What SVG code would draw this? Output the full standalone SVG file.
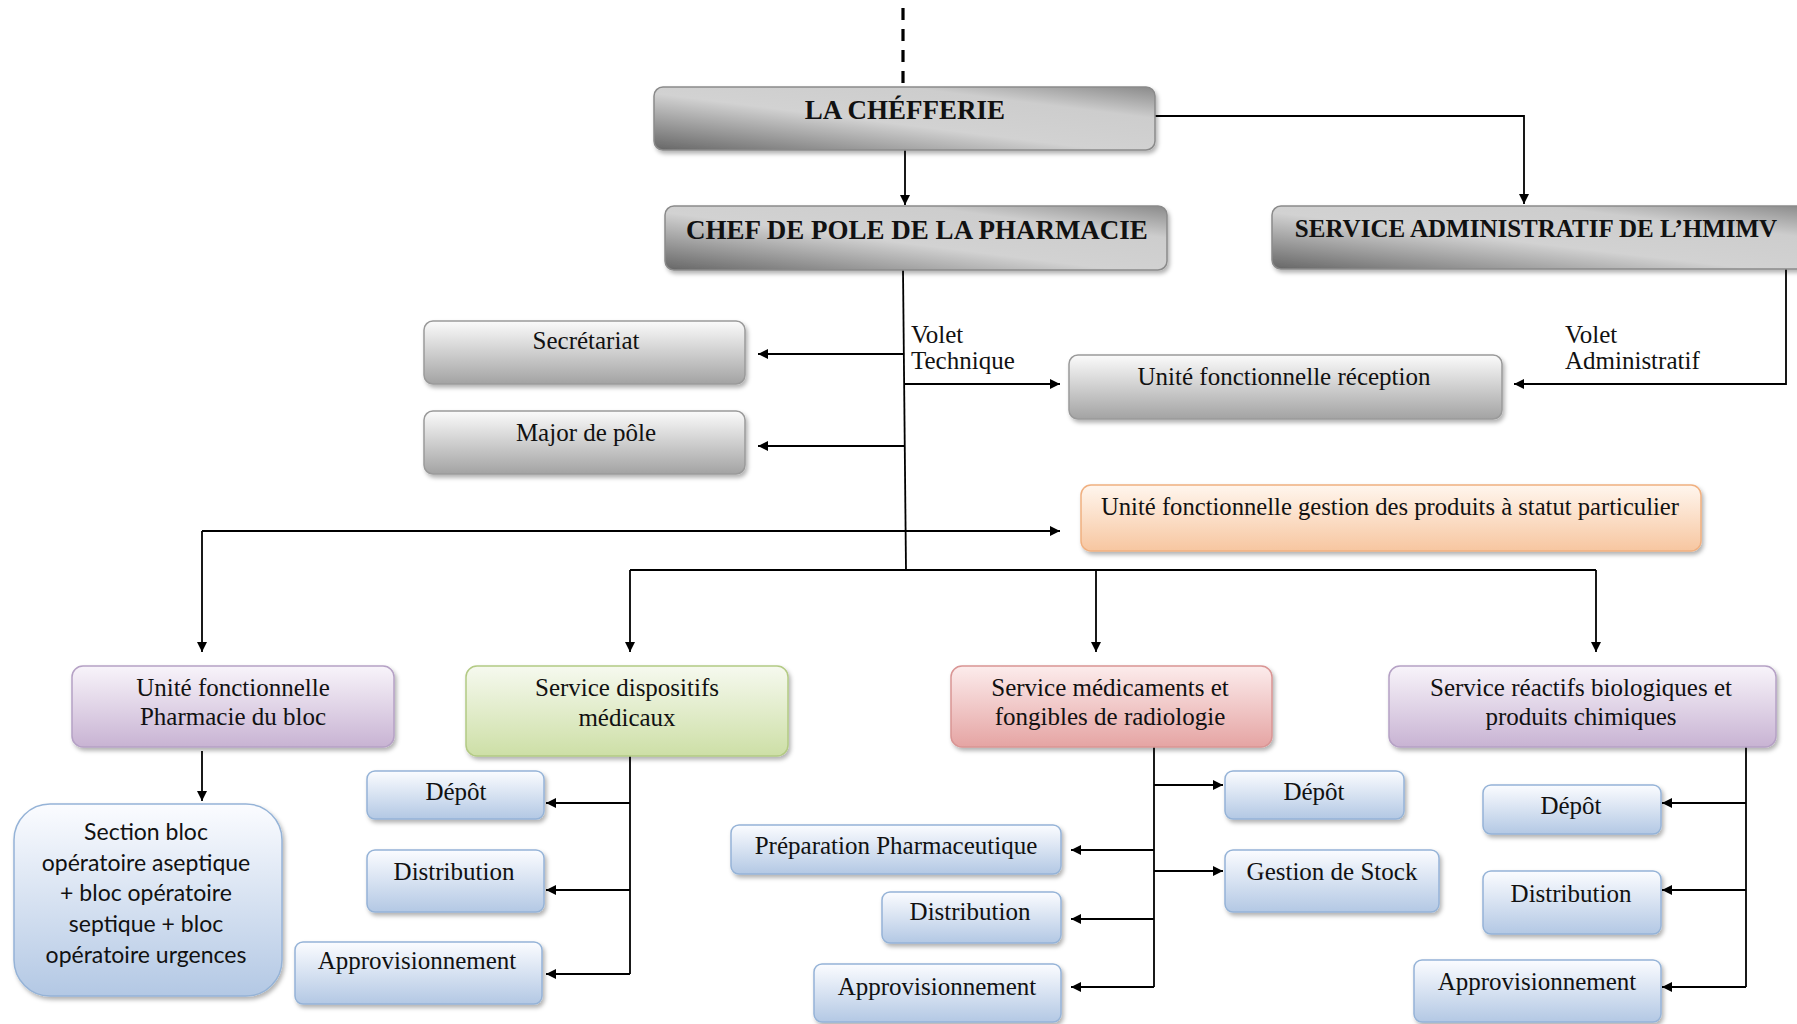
<svg xmlns="http://www.w3.org/2000/svg" width="1797" height="1024" viewBox="0 0 1797 1024">
<defs>
<linearGradient id="gDark" x1="0" y1="1" x2="1" y2="0">
<stop offset="0" stop-color="#666"/><stop offset="0.45" stop-color="#d2d2d2"/><stop offset="0.75" stop-color="#cdcdcd"/><stop offset="1" stop-color="#8a8a8a"/>
</linearGradient>
<linearGradient id="gGray" x1="0" y1="0" x2="0" y2="1"><stop offset="0" stop-color="#fbfbfb"/><stop offset="1" stop-color="#a3a3a3"/></linearGradient>
<linearGradient id="gOrange" x1="0" y1="0" x2="0" y2="1"><stop offset="0" stop-color="#fff6ee"/><stop offset="1" stop-color="#f7c6a0"/></linearGradient>
<linearGradient id="gPurple" x1="0" y1="0" x2="0" y2="1"><stop offset="0" stop-color="#f8f4fa"/><stop offset="1" stop-color="#c8b3d3"/></linearGradient>
<linearGradient id="gGreen" x1="0" y1="0" x2="0" y2="1"><stop offset="0" stop-color="#f6f9ef"/><stop offset="1" stop-color="#cddfa6"/></linearGradient>
<linearGradient id="gRed" x1="0" y1="0" x2="0" y2="1"><stop offset="0" stop-color="#fcecec"/><stop offset="1" stop-color="#e5a4a3"/></linearGradient>
<linearGradient id="gBlue" x1="0" y1="0" x2="0" y2="1"><stop offset="0" stop-color="#fbfcff"/><stop offset="1" stop-color="#b3c8e4"/></linearGradient>
<filter id="sh" x="-5%" y="-10%" width="115%" height="130%"><feDropShadow dx="2" dy="3" stdDeviation="2" flood-color="#000" flood-opacity="0.3"/></filter>
<marker id="arr" viewBox="0 0 10 10" refX="10" refY="5" markerWidth="12" markerHeight="10" markerUnits="userSpaceOnUse" orient="auto"><path d="M0,0 L10,5 L0,10 z" fill="#000"/></marker>
</defs>
<style>
.box{stroke-width:1.5;filter:url(#sh)}
.dark{fill:url(#gDark);stroke:#8a8a8a}
.gray{fill:url(#gGray);stroke:#9a9a9a}
.orange{fill:url(#gOrange);stroke:#f0b080}
.purple{fill:url(#gPurple);stroke:#b5a1c5}
.green{fill:url(#gGreen);stroke:#b3ca84}
.red{fill:url(#gRed);stroke:#d99594}
.blue{fill:url(#gBlue);stroke:#95b3d7}
text{font-family:"Liberation Serif","Times New Roman",serif;font-size:25px;fill:#111}
.t{text-anchor:middle}
.b{font-weight:bold;font-size:27px}
.sans{font-family:Lato,"Liberation Sans",sans-serif;font-size:23px}
.ln{fill:none;stroke:#000;stroke-width:1.8}
.dash{stroke-width:3.2;stroke-dasharray:12,9}
.ar{marker-end:url(#arr)}
</style>

<g id="connectors">
<path class="ln dash" d="M903,8 V88"/>
<path class="ln ar" d="M905,150 V205"/>
<path class="ln ar" d="M1155,116 H1524 V204"/>
<path class="ln ar" d="M1786,269 V384 H1514"/>
<path class="ln" d="M903,270 L906,570"/>
<path class="ln ar" d="M903,354 H758"/>
<path class="ln ar" d="M904,446 H758"/>
<path class="ln ar" d="M905,384 H1060"/>
<path class="ln ar" d="M202,531 H1060"/>
<path class="ln ar" d="M202,531 V652"/>
<path class="ln" d="M630,570 H1596"/>
<path class="ln ar" d="M630,570 V652"/>
<path class="ln ar" d="M1096,570 V652"/>
<path class="ln ar" d="M1596,570 V652"/>
<path class="ln ar" d="M202,751 V801"/>
<path class="ln" d="M630,756 V974"/>
<path class="ln ar" d="M630,803 H546"/>
<path class="ln ar" d="M630,890 H546"/>
<path class="ln ar" d="M630,974 H546"/>
<path class="ln" d="M1154,747 V987"/>
<path class="ln ar" d="M1154,785 H1223"/>
<path class="ln ar" d="M1154,871 H1223"/>
<path class="ln ar" d="M1154,850 H1071"/>
<path class="ln ar" d="M1154,919 H1071"/>
<path class="ln ar" d="M1154,987 H1071"/>
<path class="ln" d="M1746,747 V987"/>
<path class="ln ar" d="M1746,803 H1662"/>
<path class="ln ar" d="M1746,890 H1662"/>
<path class="ln ar" d="M1746,987 H1662"/>
</g>

<g id="labels">
<text x="911" y="343">Volet</text>
<text x="911" y="369">Technique</text>
<text x="1565" y="343">Volet</text>
<text x="1565" y="369">Administratif</text>
</g>

<g id="chefferie"><rect class="box dark" x="654" y="87" width="501" height="63" rx="9"/><text class="t b" x="905" y="119">LA CHÉFFERIE</text></g>
<g id="chef-pole"><rect class="box dark" x="665" y="206" width="502" height="64" rx="9"/><text class="t b" x="917" y="239">CHEF DE POLE DE LA PHARMACIE</text></g>
<g id="service-admin"><rect class="box dark" x="1272" y="206" width="535" height="63" rx="9"/><text class="t b" x="1536" y="237" style="font-size:25px">SERVICE ADMINISTRATIF DE L’HMIMV</text></g>
<g id="secretariat"><rect class="box gray" x="424" y="321" width="321" height="63" rx="9"/><text class="t" x="586" y="349">Secrétariat</text></g>
<g id="major"><rect class="box gray" x="424" y="411" width="321" height="63" rx="9"/><text class="t" x="586" y="441">Major de pôle</text></g>
<g id="reception"><rect class="box gray" x="1069" y="355" width="433" height="64" rx="9"/><text class="t" x="1284" y="385">Unité fonctionnelle réception</text></g>
<g id="statut-particulier"><rect class="box orange" x="1081" y="485" width="620" height="66" rx="10"/><text class="t" x="1390" y="515" textLength="578" lengthAdjust="spacingAndGlyphs">Unité fonctionnelle gestion des produits à statut particulier</text></g>

<g id="pharmacie-bloc"><rect class="box purple" x="72" y="666" width="322" height="81" rx="11"/><text class="t" x="233" y="696">Unité fonctionnelle</text><text class="t" x="233" y="725">Pharmacie du bloc</text></g>
<g id="dispositifs"><rect class="box green" x="466" y="666" width="322" height="90" rx="11"/><text class="t" x="627" y="696">Service dispositifs</text><text class="t" x="627" y="726">médicaux</text></g>
<g id="medicaments"><rect class="box red" x="951" y="666" width="321" height="81" rx="11"/><text class="t" x="1110" y="696">Service médicaments et</text><text class="t" x="1110" y="725">fongibles de radiologie</text></g>
<g id="reactifs"><rect class="box purple" x="1389" y="666" width="387" height="81" rx="11"/><text class="t" x="1581" y="696">Service réactifs biologiques et</text><text class="t" x="1581" y="725">produits chimiques</text></g>

<g id="section-bloc"><rect class="box blue" x="14" y="804" width="268" height="192" rx="36"/>
<text class="t sans" x="146" y="840">Section bloc</text>
<text class="t sans" x="146" y="871">opératoire aseptique</text>
<text class="t sans" x="146" y="901">+ bloc opératoire</text>
<text class="t sans" x="146" y="932">septique + bloc</text>
<text class="t sans" x="146" y="963">opératoire urgences</text></g>

<g id="dm-depot"><rect class="box blue" x="367" y="771" width="177" height="48" rx="8"/><text class="t" x="456" y="800">Dépôt</text></g>
<g id="dm-distribution"><rect class="box blue" x="367" y="850" width="177" height="62" rx="8"/><text class="t" x="454" y="880">Distribution</text></g>
<g id="dm-appro"><rect class="box blue" x="295" y="942" width="247" height="62" rx="8"/><text class="t" x="417" y="969">Approvisionnement</text></g>

<g id="med-depot"><rect class="box blue" x="1225" y="771" width="179" height="48" rx="8"/><text class="t" x="1314" y="800">Dépôt</text></g>
<g id="med-stock"><rect class="box blue" x="1225" y="850" width="214" height="62" rx="8"/><text class="t" x="1332" y="880">Gestion de Stock</text></g>
<g id="med-preparation"><rect class="box blue" x="731" y="825" width="330" height="49" rx="8"/><text class="t" x="896" y="854">Préparation Pharmaceutique</text></g>
<g id="med-distribution"><rect class="box blue" x="882" y="892" width="179" height="51" rx="8"/><text class="t" x="970" y="920">Distribution</text></g>
<g id="med-appro"><rect class="box blue" x="814" y="964" width="247" height="58" rx="8"/><text class="t" x="937" y="995">Approvisionnement</text></g>

<g id="rb-depot"><rect class="box blue" x="1483" y="785" width="178" height="49" rx="8"/><text class="t" x="1571" y="814">Dépôt</text></g>
<g id="rb-distribution"><rect class="box blue" x="1483" y="871" width="178" height="63" rx="8"/><text class="t" x="1571" y="902">Distribution</text></g>
<g id="rb-appro"><rect class="box blue" x="1414" y="960" width="247" height="62" rx="8"/><text class="t" x="1537" y="990">Approvisionnement</text></g>
</svg>
